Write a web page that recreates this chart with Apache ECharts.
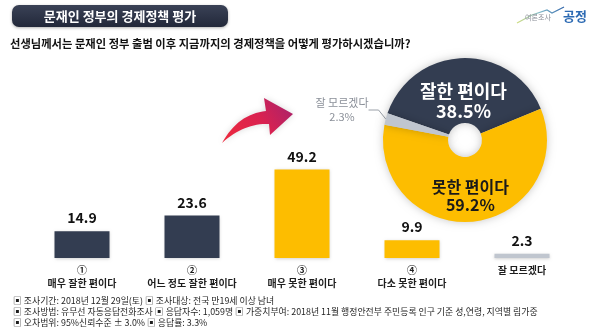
<!DOCTYPE html>
<html>
<head>
<meta charset="utf-8">
<title>문재인 정부의 경제정책 평가</title>
<script src="https://cdn.jsdelivr.net/npm/echarts/dist/echarts.min.js"></script>
<style>
  html, body { margin: 0; padding: 0; background: #ffffff; }
  #chart { width: 599px; height: 334px; }
</style>
</head>
<body>
<div id="chart"></div>
<script>
// Survey: evaluation of the Moon administration's economic policy
const answerNumbers = ['①', '②', '③', '④', ''];
const answerLabels = ['매우 잘한 편이다', '어느 정도 잘한 편이다', '매우 못한 편이다', '다소 못한 편이다', '잘 모르겠다'];
const answerValues = [14.9, 23.6, 49.2, 9.9, 2.3];

const summaryLabels = ['잘한 편이다', '못한 편이다', '잘 모르겠다'];
const summaryValues = [38.5, 59.2, 2.3];

const footnotes = [
  '▣ 조사기간: 2018년 12월 29일(토) ▣ 조사대상: 전국 만19세 이상 남녀',
  '▣ 조사방법: 유무선 자동응답전화조사 ▣ 응답자수: 1,059명 ▣ 가중치부여: 2018년 11월 행정안전부 주민등록 인구 기준 성,연령, 지역별 림가중',
  '▣ 오차범위: 95%신뢰수준 ± 3.0% ▣ 응답률: 3.3%'
];

const NAVY = '#333d51';
const GOLD = '#fdbd00';
const GREY = '#c0c6cf';
const FONT = '"Noto Sans CJK KR", "Noto Sans", sans-serif';

const barColors = [NAVY, NAVY, GOLD, GOLD, GREY];
const pieColors = [NAVY, GOLD, GREY];

// sample a quadratic curve into polygon points (decorative arrow outline)
function quad(p0, c, p1, n) {
  const pts = [];
  for (let i = 0; i <= n; i++) {
    const t = i / n, u = 1 - t;
    pts.push([u * u * p0[0] + 2 * u * t * c[0] + t * t * p1[0],
              u * u * p0[1] + 2 * u * t * c[1] + t * t * p1[1]]);
  }
  return pts;
}
const arrowOutline = quad([222, 143], [238, 114], [266, 111], 16)
  .concat([[264, 98], [293, 114], [270, 135]])
  .concat(quad([269, 124], [244, 123], [222, 143], 16));

const chart = echarts.init(document.getElementById('chart'), null, { renderer: 'canvas' });

const option = {
  backgroundColor: '#ffffff',
  animation: false,
  textStyle: { fontFamily: FONT },
  grid: { left: 27, right: 22, top: 150, bottom: 76 },
  xAxis: {
    type: 'category',
    data: answerLabels.map((l, i) => answerNumbers[i] ? answerNumbers[i] + '\n' + l : l),
    axisLine: { show: false },
    axisTick: { show: false },
    axisLabel: {
      margin: 6,
      color: '#1e1e1e',
      fontSize: 10,
      fontWeight: 'bold',
      lineHeight: 13,
      fontFamily: FONT,
      interval: 0
    }
  },
  yAxis: {
    type: 'value', min: 0, max: 60, show: false,
    splitLine: { show: false }
  },
  series: [
    {
      type: 'bar',
      barWidth: '50%',
      data: answerValues.map((v, i) => ({ value: v, itemStyle: { color: barColors[i] } })),
      itemStyle: { shadowBlur: 3, shadowColor: 'rgba(0,0,0,0.18)', shadowOffsetY: 1 },
      label: {
        show: true,
        position: 'top',
        distance: 6,
        color: '#111',
        fontSize: 14,
        fontWeight: 'bold',
        fontFamily: FONT,
        formatter: p => p.value.toFixed(1)
      }
    },
    {
      type: 'pie',
      center: [465, 140],
      radius: [17, 82],
      startAngle: 161,
      clockwise: true,
      itemStyle: { shadowBlur: 8, shadowColor: 'rgba(0,0,0,0.22)' },
      data: summaryLabels.map((n, i) => ({
        name: n, value: summaryValues[i],
        itemStyle: { color: pieColors[i] }
      })),
      label: {
        show: true,
        position: 'inside',
        fontFamily: FONT,
        fontWeight: 'bold',
        formatter: p => p.name + '\n' + p.value.toFixed(1) + '%'
      },
      labelLine: { show: false },
      labelLayout: function (params) {
        if (params.dataIndex === 0) return { dy: 14 };
        if (params.dataIndex === 1) return { dy: 4 };
        return { x: 342, y: 110, align: 'center', verticalAlign: 'middle' };
      }
    }
  ]
};

// per-slice label styles
option.series[1].data[0].label = { color: '#ffffff', fontSize: 18, lineHeight: 20 };
option.series[1].data[1].label = { color: '#1a1a1a', fontSize: 16, lineHeight: 18 };
option.series[1].data[2].label = {
  position: 'outside', color: '#8a8f98', fontSize: 11, fontWeight: 'normal', lineHeight: 14
};
option.series[1].data[2].labelLine = { show: true, length: 8, length2: 10, lineStyle: { color: '#9aa0a8', width: 1 } };

// title badge, question, logo, arrow, footnotes
option.graphic = [
  {
    type: 'rect', x: 12, y: 5,
    shape: { x: 0, y: 0, width: 216, height: 22, r: 7 },
    style: {
      fill: new echarts.graphic.LinearGradient(0, 0, 0, 1, [
        { offset: 0, color: '#3a4256' }, { offset: 1, color: '#22283a' }
      ]),
      shadowBlur: 3, shadowColor: 'rgba(0,0,0,0.3)', shadowOffsetY: 1
    }
  },
  {
    type: 'text', x: 120, y: 16,
    style: {
      text: '문재인 정부의 경제정책 평가', fill: '#ffffff',
      font: 'bold 13px ' + FONT, align: 'center', verticalAlign: 'middle'
    }
  },
  {
    type: 'text', x: 10, y: 44,
    style: {
      text: '선생님께서는 문재인 정부 출범 이후 지금까지의 경제정책을 어떻게 평가하시겠습니까?',
      fill: '#111', font: 'bold 11.3px ' + FONT, verticalAlign: 'middle'
    }
  },
  // logo mark
  {
    type: 'polyline',
    shape: { points: [[517, 23], [532, 15], [547, 10], [552, 13], [564, 7]] },
    style: {
      stroke: new echarts.graphic.LinearGradient(0, 0, 1, 0, [
        { offset: 0, color: '#d8e27a' }, { offset: 0.5, color: '#7fb7c9' }, { offset: 1, color: '#2b5fa8' }
      ]),
      lineWidth: 1.3, fill: null
    }
  },
  {
    type: 'text', x: 538, y: 17,
    style: { text: '여론조사', fill: '#8c9099', font: '7px ' + FONT, align: 'center', verticalAlign: 'middle' }
  },
  {
    type: 'text', x: 575, y: 16,
    style: { text: '공정', fill: '#2c6ab3', font: 'bold 13px ' + FONT, align: 'center', verticalAlign: 'middle' }
  },
  // curved arrow
  {
    type: 'polygon',
    shape: { points: arrowOutline },
    style: {
      fill: new echarts.graphic.LinearGradient(0, 1, 1, 0, [
        { offset: 0, color: '#ee2a3c' }, { offset: 0.55, color: '#d92150' }, { offset: 1, color: '#a4226e' }
      ]),
      shadowBlur: 6, shadowColor: 'rgba(0,0,0,0.15)'
    }
  }
].concat(footnotes.map((t, i) => ({
  type: 'text', x: 13, y: 301 + i * 11,
  style: { text: t, fill: '#1f1f1f', font: '8.9px ' + FONT, verticalAlign: 'middle' }
})));

chart.setOption(option);
</script>
</body>
</html>
